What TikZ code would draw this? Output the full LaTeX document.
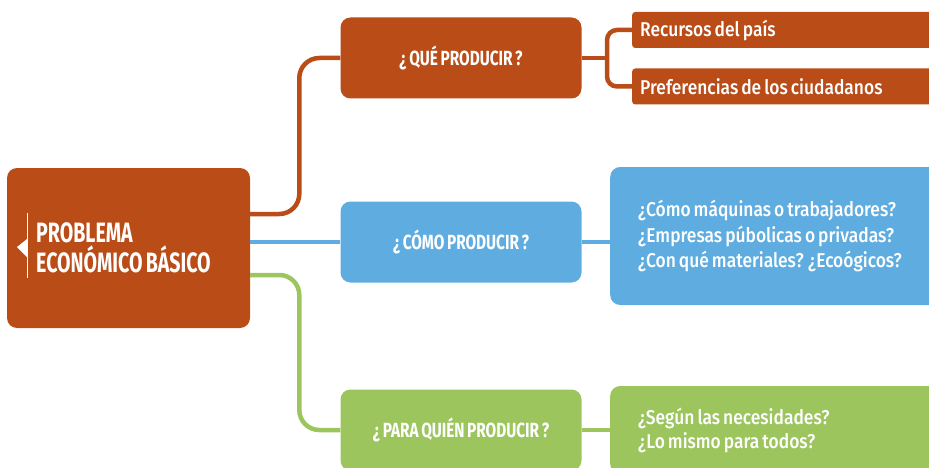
\documentclass[tikz,border=0pt]{standalone}
\usepackage{fontspec}
\setmainfont{Fira Sans}[FakeStretch=0.75,WordSpace=0.7]
\newfontfamily\medio{Fira Sans Medium}[FakeStretch=0.87,WordSpace=0.7]
\definecolor{cafe}{RGB}{185,76,23}
\definecolor{cielo}{RGB}{95,173,224}
\definecolor{pasto}{RGB}{156,198,93}
\tikzset{
  pregunta/.style={rounded corners=10pt, minimum width=241pt, minimum height=81pt,
    text=white, font=\bfseries\fontsize{20.5}{22}\selectfont},
  respuesta/.style={anchor=west, text=white, align=flush left, inner ysep=0pt,
    font=\medio\fontsize{20}{25.5}\selectfont},
  enlace/.style={draw=#1, line width=4.5pt}
}
\begin{document}
\begin{tikzpicture}[x=1pt,y=-1pt]
  \clip (0,0) rectangle (929,468);

  \node[pregunta,fill=cafe,minimum width=243pt,minimum height=160pt] (problema) at (128.5,248) {};
  \node[anchor=west,inner sep=0pt,text=white,align=flush left,
    font=\bfseries\fontsize{28}{30}\selectfont\addfontfeatures{FakeStretch=0.7}] (titulo) at (36,248) {PROBLEMA\\ECONÓMICO BÁSICO};
  \draw[white,line width=1pt] (27,213) -- (27,278);
  \fill[white] (27,239) -- (17,247) -- (27,257) -- cycle;

  \node[pregunta,fill=cafe] (que) at (461,58) {¿ QUÉ PRODUCIR ?};
  \node[pregunta,fill=cielo] (como) at (461,242) {¿ CÓMO PRODUCIR ?};
  \node[pregunta,fill=pasto] (quien) at (461,430) {¿ PARA QUIÉN PRODUCIR ?};

  \draw[enlace=cafe,rounded corners=20pt] ([yshift=34pt]problema.east) -| ([xshift=-41pt]que.west) -- (que.west);
  \draw[enlace=cielo] (problema.east |- como.west) -- (como.west);
  \draw[enlace=pasto,rounded corners=20pt] ([yshift=-27pt]problema.east) -| ([xshift=-41pt]quien.west) -- (quien.west);

  \node[respuesta,fill=cafe,rounded corners=3pt,minimum height=36pt,text width=294pt,inner xsep=8pt] (recursos) at (632,30) {Recursos del país};
  \node[respuesta,fill=cafe,rounded corners=3pt,minimum height=36pt,text width=294pt,inner xsep=8pt] (preferencias) at (632,86.5) {Preferencias de los ciudadanos};
  \coordinate (bifurca) at (607,58);
  \draw[enlace=cafe] (que.east) -- (bifurca);
  \draw[enlace=cafe,rounded corners=10pt] (recursos.west) -| (bifurca) |- (preferencias.west);

  \node[respuesta,fill=cielo,rounded corners=10pt,minimum height=138pt,text width=300pt,inner xsep=28pt] (metodo) at (610,236)
    {¿Cómo máquinas o trabajadores?\\¿Empresas púbolicas o privadas?\\¿Con qué materiales? ¿Ecoógicos?};
  \draw[enlace=cielo] (como.east) -- (como.east -| metodo.west);

  \node[respuesta,fill=pasto,rounded corners=10pt,minimum height=88pt,text width=300pt,inner xsep=28pt,
    font=\medio\fontsize{20}{24}\selectfont] (reparto) at (610,430)
    {¿Según las necesidades?\\¿Lo mismo para todos?};
  \draw[enlace=pasto] (quien.east) -- (quien.east -| reparto.west);
\end{tikzpicture}
\end{document}
